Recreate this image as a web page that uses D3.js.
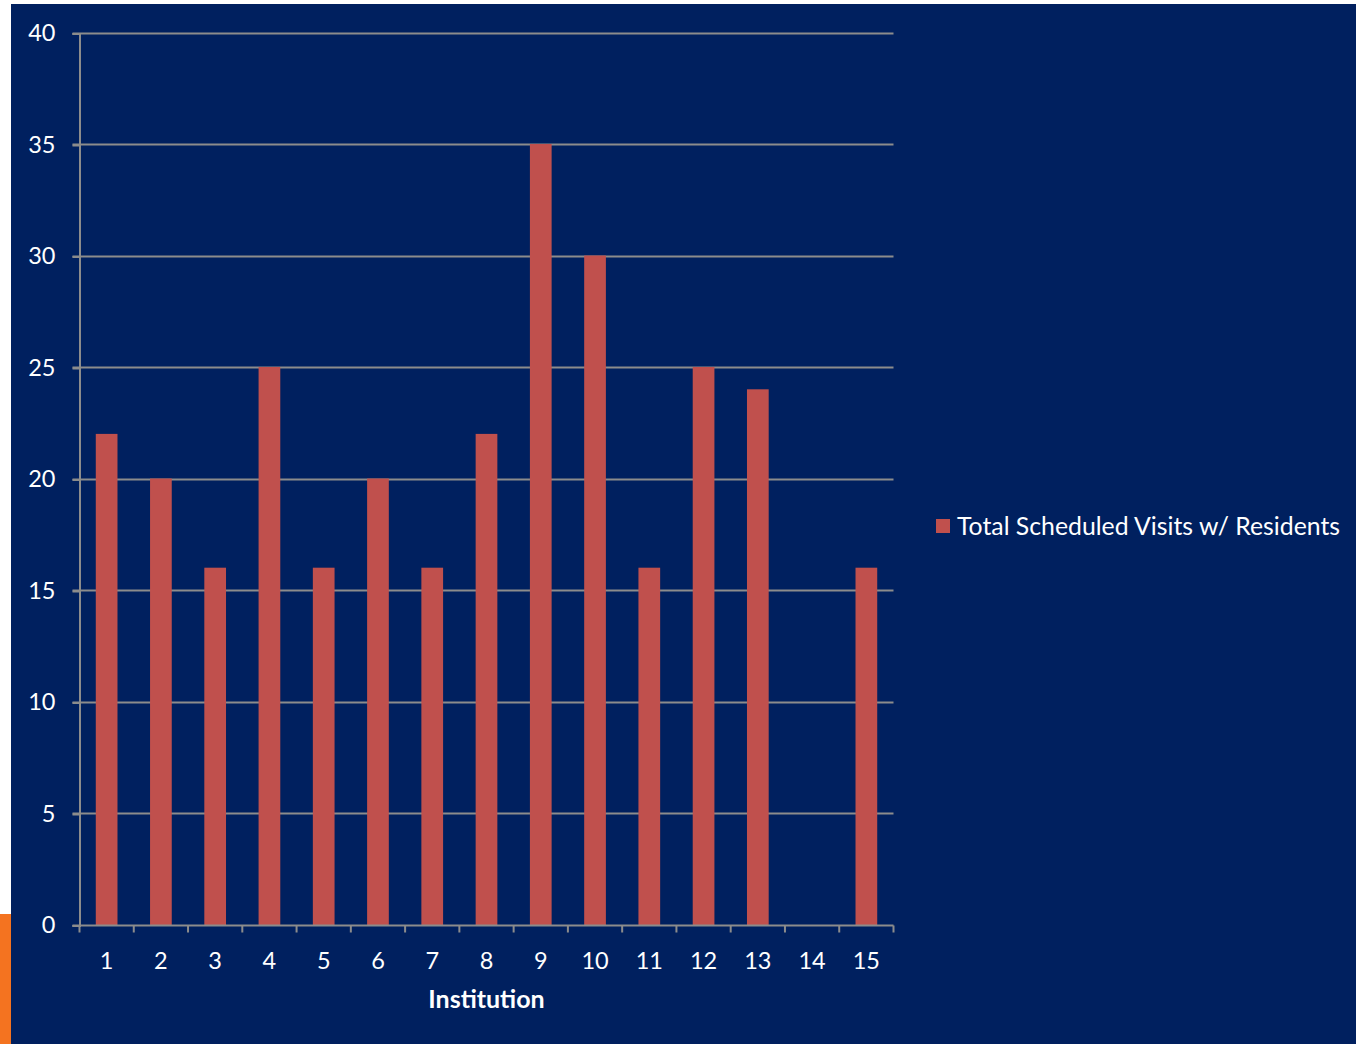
<!DOCTYPE html>
<html><head><meta charset="utf-8">
<script src="https://cdn.jsdelivr.net/npm/d3@7"></script>
<style>html,body{margin:0;padding:0;background:#fff;}svg{display:block;}</style>
</head><body>
<script>
const categories = ["1","2","3","4","5","6","7","8","9","10","11","12","13","14","15"];
const values = [22,20,16,25,16,20,16,22,35,30,16,25,24,0,16];
const yTicks = [0,5,10,15,20,25,30,35,40];
const seriesName = "Total Scheduled Visits w/ Residents";
const xTitle = "Institution";

const W = 1356, H = 1044;
const font = "Lato, 'Open Sans', sans-serif";
const svg = d3.select("body").append("svg").attr("width", W).attr("height", H);
svg.append("rect").attr("width", W).attr("height", H).attr("fill", "#ffffff");
svg.append("rect").attr("x", 11).attr("y", 4).attr("width", W - 11).attr("height", H - 4).attr("fill", "#00205f");
svg.append("rect").attr("x", 0).attr("y", 914).attr("width", 11).attr("height", H - 914).attr("fill", "#f47320");

const L = 79.5, R = 893.5, T = 33.5, B = 925.5;
const x = d3.scaleBand().domain(categories).range([L, R]).paddingInner(0.6).paddingOuter(0.3);
const xb = d3.scaleBand().domain(categories).range([L, R]);
const y = d3.scaleLinear().domain([0, 40]).range([B, T]);
const grey = "#8c8c8c";

// gridlines
svg.append("g").selectAll("line").data(yTicks.filter(d => d > 0)).join("line")
  .attr("x1", L - 7).attr("x2", R).attr("y1", d => Math.round(y(d)) - 0.5).attr("y2", d => Math.round(y(d)) - 0.5)
  .attr("stroke", grey).attr("stroke-width", 2);

// bars
svg.append("g").selectAll("rect").data(values.filter(d => d > 0).length ? values : []).join("rect")
  .attr("x", (d, i) => x(categories[i]))
  .attr("width", x.bandwidth())
  .attr("y", d => y(d) - (d > 0 ? 1 : 0))
  .attr("height", d => d > 0 ? B - y(d) + 1 : 0)
  .attr("fill", "#c0504d");

// y axis
const yAxis = d3.axisLeft(y).tickValues(yTicks).tickSize(7).tickPadding(17);
const gy = svg.append("g").attr("transform", `translate(${L},0)`).call(yAxis);
gy.select(".domain").attr("stroke", grey).attr("stroke-width", 2);
gy.selectAll(".tick line").attr("stroke", grey).attr("stroke-width", 2);
gy.selectAll(".tick text").attr("fill", "#ffffff").attr("font-family", font).attr("font-size", 23.5).attr("dy", "0.3em");

// x axis
const gx = svg.append("g").attr("transform", `translate(0,${B})`);
gx.append("line").attr("x1", L - 7).attr("x2", R).attr("y1", 0).attr("y2", 0).attr("stroke", grey).attr("stroke-width", 2);
const bounds = categories.map(c => xb(c)).concat([R]);
gx.selectAll("line.tk").data(bounds).join("line").attr("class", "tk")
  .attr("x1", d => d).attr("x2", d => d).attr("y1", 0).attr("y2", 7)
  .attr("stroke", grey).attr("stroke-width", 2);
gx.selectAll("text").data(categories).join("text")
  .attr("x", d => xb(d) + xb.bandwidth() / 2).attr("y", 43)
  .attr("text-anchor", "middle").attr("fill", "#ffffff")
  .attr("font-family", font).attr("font-size", 23.5).text(d => d);

svg.append("text").attr("x", (L + R) / 2).attr("y", 1008).attr("text-anchor", "middle")
  .attr("fill", "#ffffff").attr("font-family", font).attr("font-weight", "bold").attr("font-size", 25).text(xTitle);

// legend
svg.append("rect").attr("x", 936).attr("y", 519).attr("width", 14).attr("height", 14).attr("fill", "#c0504d");
svg.append("text").attr("x", 957).attr("y", 535).attr("fill", "#ffffff")
  .attr("font-family", font).attr("font-size", 24.8).text(seriesName);
</script>
</body></html>
